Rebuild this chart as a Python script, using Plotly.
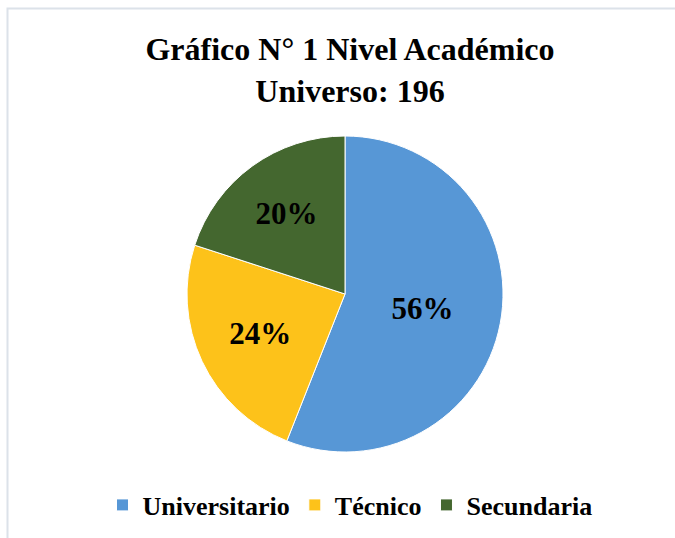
import plotly.graph_objects as go

labels = ["Universitario", "Técnico", "Secundaria"]
values = [56, 24, 20]
colors = ["#5797d6", "#fdc21a", "#44672f"]

SERIF = "Times New Roman, Liberation Serif, serif"

fig = go.Figure()

fig.add_trace(go.Pie(
    labels=[f"<b>{l}</b>" for l in labels],
    values=values,
    sort=False,
    direction="clockwise",
    rotation=0,
    texttemplate="<b>%{percent:.0%}</b>",
    textposition="inside",
    insidetextorientation="horizontal",
    textfont=dict(family=SERIF, size=31, color="black"),
    marker=dict(colors=colors, line=dict(color="white", width=1)),
    domain=dict(x=[(345 - 158) / 675, (345 + 158) / 675],
                y=[1 - 452 / 538, 1 - 136 / 538]),
    hoverinfo="label+percent",
))

fig.update_layout(
    width=675, height=538,
    margin=dict(l=0, r=0, t=0, b=0),
    paper_bgcolor="white",
    plot_bgcolor="white",
    font=dict(family=SERIF, color="black"),
    title=dict(
        text="<b>Gráfico N° 1 Nivel Académico<br>Universo: 196</b>",
        x=350 / 675, xanchor="center",
        y=1 - 60 / 538, yanchor="top",
        font=dict(family=SERIF, size=32, color="black"),
    ),
    legend=dict(
        orientation="h",
        x=350 / 675, xanchor="center",
        y=1 - 505 / 538, yanchor="middle",
        font=dict(family=SERIF, size=26, color="black"),
        itemclick=False,
    ),
    shapes=[dict(
        type="rect", xref="paper", yref="paper",
        x0=7.5 / 675, x1=1.05, y0=-0.05, y1=1 - 8.5 / 538,
        line=dict(color="#dce2e9", width=2),
        layer="below",
    )],
)

# the page body has a default 8px margin; drop it so the figure sits at 0,0
fig.write_html("out.html", config={"displayModeBar": False},
               post_script="document.body.style.margin='0';")
